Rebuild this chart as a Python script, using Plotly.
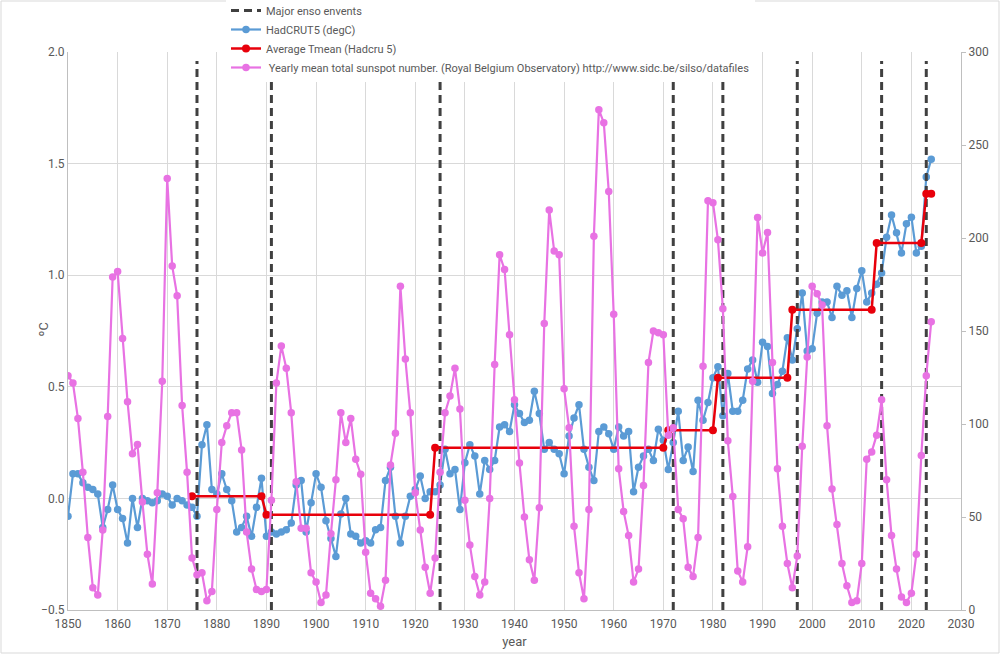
import plotly.graph_objects as go

years = list(range(1850, 2025))

hadcrut5 = [
    -0.08, 0.11, 0.11, 0.07, 0.05, 0.04, 0.02, -0.13, -0.05, 0.06,   # 1850-1859
    -0.05, -0.09, -0.20, 0.00, -0.13, 0.00, -0.01, -0.02, -0.01, 0.02,  # 1860-1869
    0.01, -0.03, 0.00, -0.01, -0.03, -0.04, -0.08, 0.24, 0.33, 0.04,   # 1870-1879
    0.02, 0.11, 0.04, -0.01, -0.15, -0.13, -0.08, -0.17, -0.04, 0.09,  # 1880-1889
    -0.17, -0.15, -0.16, -0.15, -0.14, -0.11, 0.06, 0.08, -0.15, -0.02,  # 1890-1899
    0.11, 0.05, -0.10, -0.18, -0.26, -0.07, 0.00, -0.16, -0.17, -0.20,  # 1900-1909
    -0.19, -0.20, -0.14, -0.13, 0.08, 0.14, -0.08, -0.20, -0.08, 0.01,  # 1910-1919
    0.04, 0.10, 0.00, 0.03, 0.03, 0.06, 0.22, 0.11, 0.13, -0.05,       # 1920-1929
    0.16, 0.24, 0.19, 0.02, 0.17, 0.13, 0.17, 0.32, 0.33, 0.30,        # 1930-1939
    0.42, 0.38, 0.34, 0.35, 0.48, 0.38, 0.22, 0.25, 0.22, 0.20,        # 1940-1949
    0.11, 0.28, 0.36, 0.42, 0.22, 0.14, 0.08, 0.30, 0.32, 0.29,        # 1950-1959
    0.22, 0.32, 0.28, 0.30, 0.03, 0.14, 0.19, 0.22, 0.17, 0.31,        # 1960-1969
    0.26, 0.13, 0.25, 0.39, 0.17, 0.23, 0.12, 0.44, 0.35, 0.43,        # 1970-1979
    0.54, 0.59, 0.37, 0.56, 0.39, 0.39, 0.44, 0.58, 0.62, 0.52,        # 1980-1989
    0.70, 0.68, 0.47, 0.51, 0.57, 0.72, 0.62, 0.76, 0.92, 0.66,        # 1990-1999
    0.67, 0.83, 0.88, 0.88, 0.81, 0.95, 0.91, 0.93, 0.81, 0.94,        # 2000-2009
    1.02, 0.88, 0.92, 0.96, 1.01, 1.17, 1.27, 1.19, 1.10, 1.23,        # 2010-2019
    1.26, 1.10, 1.13, 1.44, 1.52,                                      # 2020-2024
]

sunspots = [
    126, 122, 103, 74, 39, 12, 8, 43, 104, 179,      # 1850-1859
    182, 146, 112, 84, 89, 58, 30, 14, 63, 123,      # 1860-1869
    232, 185, 169, 110, 74, 28, 19, 20, 5, 10,       # 1870-1879
    54, 90, 99, 106, 106, 86, 42, 22, 11, 10,        # 1880-1889
    11, 59, 122, 142, 130, 106, 69, 44, 44, 20,      # 1890-1899
    15, 4, 8, 41, 70, 106, 90, 103, 81, 73,          # 1900-1909
    31, 9, 6, 2, 16, 78, 95, 174, 135, 106,          # 1910-1919
    63, 43, 23, 9, 28, 74, 106, 115, 130, 108,       # 1920-1929
    59, 35, 18, 8, 15, 60, 132, 191, 183, 148,       # 1930-1939
    113, 79, 50, 27, 16, 55, 154, 215, 193, 191,     # 1940-1949
    119, 98, 45, 20, 6, 54, 201, 269, 262, 225,      # 1950-1959
    159, 76, 53, 40, 15, 22, 67, 133, 150, 149,      # 1960-1969
    148, 94, 98, 54, 49, 23, 18, 39, 131, 220,       # 1970-1979
    219, 199, 162, 91, 61, 21, 15, 34, 123, 211,     # 1980-1989
    192, 203, 133, 76, 45, 25, 12, 29, 88, 136,      # 1990-1999
    174, 170, 164, 99, 65, 46, 25, 13, 4, 5,         # 2000-2009
    25, 81, 85, 94, 113, 70, 40, 22, 7, 4,           # 2010-2019
    9, 30, 83, 126, 155,                             # 2020-2024
]

avg_x = [1875, 1889, 1890, 1923, 1924, 1970, 1971, 1980, 1981, 1995, 1996, 2012, 2013, 2022, 2023, 2024]
avg_y = [0.01, 0.01, -0.073, -0.073, 0.227, 0.227, 0.305, 0.305, 0.54, 0.54, 0.845, 0.845, 1.144, 1.144, 1.365, 1.365]

enso_years = [1876, 1891, 1925, 1972, 1982, 1997, 2014, 2023]
enso_bottom, enso_top = -0.5, 1.96

BLUE = "#5B9BD5"
RED = "#E8000B"
PINK = "#E872E3"
GRID = "#D9D9D9"
TXT = "#595959"
FONT = "Liberation Sans Narrow, Roboto, Arial, sans-serif"

W, H = 1000, 654
ML, MR, MT, MB = 68, 39, 52, 44

fig = go.Figure()

fig.add_trace(go.Scatter(
    x=years, y=hadcrut5, mode="lines+markers", name="HadCRUT5 (degC)",
    line=dict(color=BLUE, width=2.2), marker=dict(color=BLUE, size=7.5),
    legendrank=2,
))

fig.add_trace(go.Scatter(
    x=years, y=sunspots, mode="lines+markers", yaxis="y2",
    name=" Yearly mean total sunspot number. (Royal Belgium Observatory) http://www.sidc.be/silso/datafiles",
    line=dict(color=PINK, width=2.2), marker=dict(color=PINK, size=7.5),
    legendrank=4,
))

ex, ey = [], []
for yr in enso_years:
    ex += [yr, yr, None]
    ey += [enso_bottom, enso_top, None]
fig.add_trace(go.Scatter(
    x=ex, y=ey, mode="lines", name="Major enso envents",
    line=dict(color="#404040", width=3, dash="8px,5px"),
    legendrank=1,
))

fig.add_trace(go.Scatter(
    x=avg_x, y=avg_y, mode="lines+markers", name="Average Tmean (Hadcru 5)",
    line=dict(color=RED, width=2.5), marker=dict(color=RED, size=8),
    legendrank=3,
))

pw, ph = W - ML - MR, H - MT - MB
fig.add_shape(type="rect", xref="paper", yref="paper",
              x0=(1 - ML) / pw, x1=(W - 1 - ML) / pw,
              y0=-(MB - 1) / ph, y1=1 + (MT - 1) / ph,
              line=dict(color="#D9D9D9", width=1), fillcolor="rgba(0,0,0,0)", layer="below")

fig.add_annotation(text="ºC", xref="paper", yref="paper",
                   x=(33 - ML) / pw, y=(610 - 330) / ph, showarrow=False,
                   textangle=-90, font=dict(size=13, color=TXT, family=FONT))

fig.update_layout(
    width=W, height=H,
    margin=dict(l=ML, r=MR, t=MT, b=MB, autoexpand=False),
    paper_bgcolor="white", plot_bgcolor="white",
    font=dict(family=FONT, size=12, color=TXT),
    showlegend=True,
    legend=dict(
        xref="paper", yref="paper", x=(226 - ML) / pw, y=1 + (MT + 4) / ph,
        xanchor="left", yanchor="top", bgcolor="white",
        font=dict(family=FONT, size=11, color=TXT), tracegroupgap=0,
        itemwidth=30,
    ),
    xaxis=dict(
        range=[1850, 2030], dtick=10, tick0=1850, showgrid=True, gridcolor=GRID,
        gridwidth=1, zeroline=False, showline=True, linecolor="#BFBFBF",
        ticks="", tickfont=dict(size=12, color=TXT), tickangle=0,
        ticklabelstandoff=3,
        title=dict(text="year", font=dict(size=13, color=TXT), standoff=6),
    ),
    yaxis=dict(
        range=[-0.5, 2.0], dtick=0.5, tick0=-0.5, tickformat=".1f",
        showgrid=True, gridcolor=GRID, gridwidth=1, zeroline=False,
        showline=True, linecolor="#BFBFBF", ticks="",
        tickfont=dict(size=12, color=TXT),
    ),
    yaxis2=dict(
        range=[0, 300], dtick=50, overlaying="y", side="right",
        showgrid=False, zeroline=False, showline=True, linecolor="#BFBFBF",
        ticks="outside", ticklen=4, tickcolor="#BFBFBF",
        tickfont=dict(size=12, color=TXT),
    ),
)

fig.write_html("out.html", config={"displayModeBar": False},
               post_script="document.body.style.margin='0';document.body.style.overflow='hidden';")
